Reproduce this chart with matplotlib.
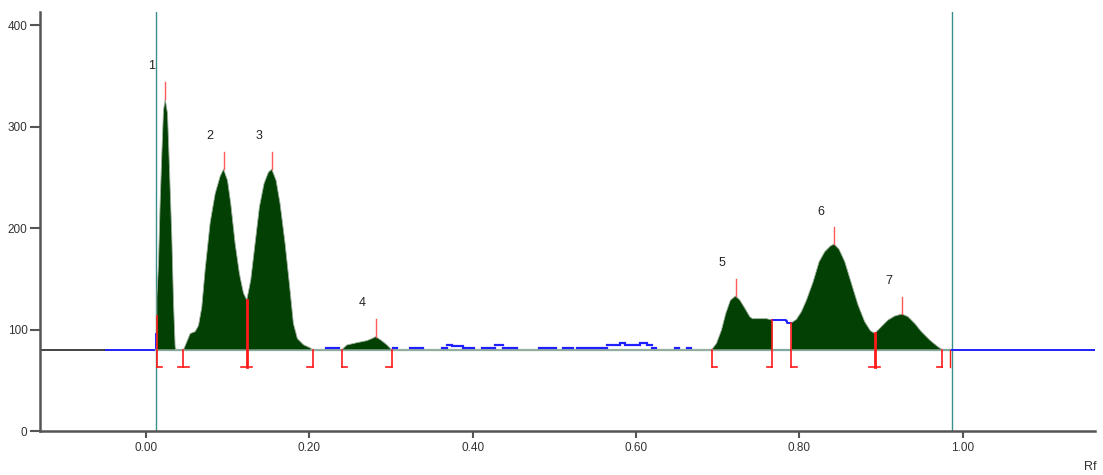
import numpy as np
import matplotlib
matplotlib.use("Agg")
import matplotlib.pyplot as plt

# densitometer scan, values
BASELINE = 80

rf = [0.0131, 0.0131, 0.0151, 0.0171, 0.0192, 0.0212, 0.0233, 0.0261, 0.0286, 0.0314,
      0.0335, 0.0355, 0.0367,
      0.0457, 0.0498, 0.0539, 0.0600, 0.0641, 0.0681, 0.0722, 0.0783, 0.0845, 0.0906,
      0.0947, 0.0996, 0.1036, 0.1089, 0.1142, 0.1191, 0.1232, 0.1281, 0.1334, 0.1387,
      0.1444, 0.1497, 0.1538, 0.1591, 0.1640, 0.1701, 0.1754, 0.1803, 0.1852, 0.1926,
      0.2007, 0.2040,
      0.2395, 0.2456, 0.2579, 0.2701, 0.2762, 0.2811, 0.2885, 0.2946, 0.3007,
      0.6924, 0.6985, 0.7046, 0.7099, 0.7156, 0.7218, 0.7271, 0.7332, 0.7393, 0.7426,
      0.7597, 0.7670, 0.7834, 0.7850, 0.7903,
      0.7964, 0.8025, 0.8087, 0.8168, 0.8242, 0.8311, 0.8380, 0.8425, 0.8486, 0.8556,
      0.8637, 0.8719, 0.8800, 0.8870, 0.8923,
      0.9004, 0.9086, 0.9168, 0.9257, 0.9331, 0.9412, 0.9494, 0.9596, 0.9686, 0.9751]
signal = [80, 132, 165, 225, 274, 316, 327, 313, 257, 191,
          126, 83, 80,
          80, 88, 96, 98, 104, 122, 159, 205, 234, 251,
          258, 247, 224, 185, 155, 136, 129, 149, 185, 221,
          244, 255, 258, 247, 224, 185, 145, 106, 91, 85,
          82, 80,
          80, 84.7, 87, 89, 91, 93, 89, 85, 80,
          80, 86.4, 99.5, 116, 129, 133, 129, 121, 112.6, 110.7,
          110.7, 109.4, 108.4, 106.7, 106.7,
          110, 117.6, 129, 147, 166.8, 176.7, 182.3, 184.2, 179, 166.8,
          145.5, 124.1, 107.7, 98.8, 96.2,
          102.8, 109.4, 113.3, 115.3, 112.6, 106.1, 97.9, 89.7, 83.7, 80]

# small noise above baseline, drawn in blue (start, end, value)
noise_start = [0.2208, 0.2289, 0.3027, 0.3231, 0.3619, 0.3680, 0.3741, 0.3884, 0.4117,
               0.4272, 0.4374, 0.4814, 0.5108, 0.5271, 0.5639, 0.5802, 0.5863, 0.6047,
               0.6128, 0.6189, 0.6475, 0.6618]
noise_end = [0.2269, 0.2363, 0.3068, 0.3395, 0.3680, 0.3741, 0.3884, 0.4019, 0.4272,
             0.4374, 0.4545, 0.5018, 0.5230, 0.5639, 0.5802, 0.5863, 0.6047, 0.6128,
             0.6189, 0.6242, 0.6528, 0.6667]
noise_val = [82, 82, 82, 82, 82, 84.7, 83.7, 82, 82,
             84.4, 82, 82, 82, 82, 84.4, 86.3, 84.4, 86.3,
             84.4, 82, 82, 82]

peak_rf = [0.0233, 0.0947, 0.1538, 0.2811, 0.7218, 0.8425, 0.9257]
peak_h = [327, 258, 258, 93, 133, 184, 115]
peak_names = ["1", "2", "3", "4", "5", "6", "7"]
label_rf = [0.006, 0.078, 0.138, 0.264, 0.705, 0.826, 0.909]
label_y = [360, 291, 291, 126, 166, 216, 148]

# integration boundaries: position, top of line, bracket style
bound_rf = [0.0131, 0.0457, 0.1232, 0.2040, 0.2395, 0.3007, 0.6924, 0.7670, 0.7903,
            0.8923, 0.9751]
bound_top = [113, 80, 129, 80, 80, 80, 80, 109.4, 106.7, 96.2, 80]
bound_kind = ["[", "T", "T", "]", "[", "]", "[", "]", "[", "T", "]"]

x = np.array(rf)
y = np.array(signal)

fig = plt.figure(figsize=(11.03, 4.75), dpi=100)
ax = fig.add_axes([0.0363, 0.0926, 0.9564, 0.8824])
ax.set_xlim(-0.13, 1.162)
ax.set_ylim(0, 413)

# baseline pieces
ax.plot([-0.13, -0.049], [BASELINE, BASELINE], color="#222222", lw=1.2, zorder=2)
ax.plot([-0.049, 0.0122, 0.0122], [BASELINE, BASELINE, 96], color="#2020ff", lw=1.4, zorder=2)
ax.plot([0.0122, 0.9869], [BASELINE, BASELINE], color="#7fa8a2", lw=1.6, zorder=2)
ax.plot([0.9869, 1.162], [BASELINE, BASELINE], color="#2020ff", lw=1.4, zorder=2)

# start / end markers
for v in [0.0122, 0.9869]:
    ax.axvline(v, color="#3a8f8c", lw=1.0, zorder=1)

gap = (x > 0.767) & (x < 0.7903)
ax.fill_between(x, BASELINE, y, where=~gap, color="#034003", edgecolor="#9db09d",
                lw=0.6, zorder=3)
ax.step(x[(x >= 0.767) & (x <= 0.7903)], y[(x >= 0.767) & (x <= 0.7903)],
        where="post", color="#2020ff", lw=1.4, zorder=3)

for s, e, v in zip(noise_start, noise_end, noise_val):
    ax.plot([s, e], [v, v], color="#2020ff", lw=1.6, zorder=3)

# peak tops
for p, h in zip(peak_rf, peak_h):
    ax.plot([p, p], [h, h + 17], color="#ff5a5a", lw=1.0, zorder=4)
for p, h, n in zip(label_rf, label_y, peak_names):
    ax.text(p, h, n, fontsize=9, color="#222222", ha="center", va="center",
            family="Liberation Sans")

# boundary brackets
bot = 63
w = 0.0065
for b, t, k in zip(bound_rf, bound_top, bound_kind):
    lw = 2.0 if (k == "T" and t > BASELINE) else 1.2
    ax.plot([b, b], [bot, t], color="#ff1a1a", lw=lw, zorder=4)
    if k == "[":
        ax.plot([b, b + w], [bot, bot], color="#ff1a1a", lw=1.2, zorder=4)
    elif k == "]":
        ax.plot([b - w, b], [bot, bot], color="#ff1a1a", lw=1.2, zorder=4)
    else:
        ax.plot([b - w, b + w], [bot, bot], color="#ff1a1a", lw=1.2, zorder=4)
ax.plot([0.9845, 0.9845], [bot, BASELINE], color="#ff1a1a", lw=1.0, zorder=4)

for s in ["top", "right"]:
    ax.spines[s].set_visible(False)
for s in ["left", "bottom"]:
    ax.spines[s].set_color("#555555")
    ax.spines[s].set_linewidth(1.8)

ax.set_yticks([0, 100, 200, 300, 400])
ax.set_xticks([0.0, 0.2, 0.4, 0.6, 0.8, 1.0])
ax.set_xticklabels(["0.00", "0.20", "0.40", "0.60", "0.80", "1.00"])
ax.tick_params(axis="y", length=7, width=1.5, color="#555555", pad=2,
               labelsize=8.5, labelcolor="#333333")
ax.tick_params(axis="x", length=5, width=1.5, color="#555555", pad=3,
               labelsize=8.5, labelcolor="#333333")
for lab in ax.get_xticklabels() + ax.get_yticklabels():
    lab.set_family("Liberation Sans")

fig.text(0.988, 0.017, "Rf", fontsize=9, color="#333333", ha="center", va="center",
         family="Liberation Sans")

fig.savefig("out.png", dpi=100)
